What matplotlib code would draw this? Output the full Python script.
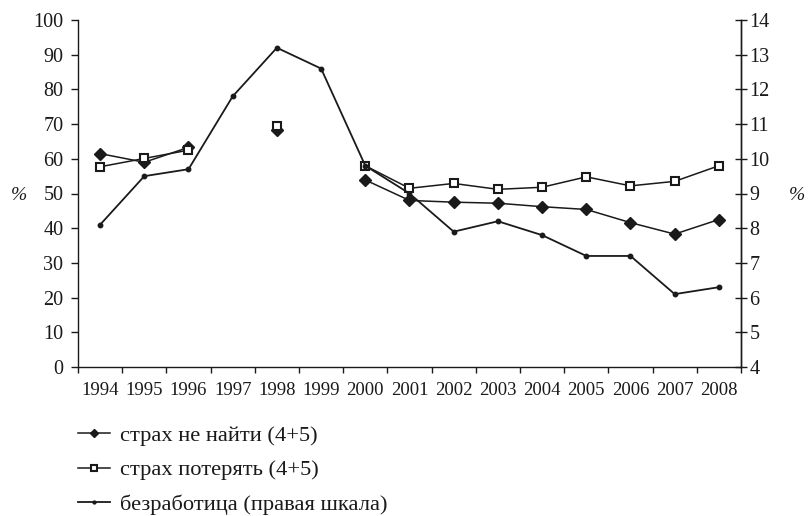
import numpy as np
import matplotlib
matplotlib.use("Agg")
import matplotlib.pyplot as plt

plt.rcParams['font.family'] = ['Liberation Serif', 'DejaVu Serif']

years = ['1994', '1995', '1996', '1997', '1998', '1999', '2000', '2001',
         '2002', '2003', '2004', '2005', '2006', '2007', '2008']
nan = np.nan
# страх не найти работу (4+5), %, левая шкала
fear_not_find = [61.5, 59.0, 63.3, nan, 68.3, nan, 53.9, 48.0,
                 47.5, 47.2, 46.2, 45.4, 41.6, 38.3, 42.5]
# страх потерять работу (4+5), %, левая шкала
fear_lose = [57.7, 60.1, 62.5, nan, 69.5, nan, 58.0, 51.5,
             52.9, 51.2, 51.8, 54.8, 52.2, 53.5, 58.0]
# безработица, %, правая шкала
unemployment = [8.1, 9.5, 9.7, 11.8, 13.2, 12.6, 9.8, 9.0,
                7.9, 8.2, 7.8, 7.2, 7.2, 6.1, 6.3]

labels = ['страх не найти (4+5)', 'страх потерять (4+5)',
          'безработица (правая шкала)']

col = '#1a1a1a'
x = np.arange(len(years))

fig = plt.figure(figsize=(8.08, 5.16), dpi=100)
ax = fig.add_axes([78/808, 1-367/516, (741-78)/808, (367-20)/516])
ax2 = ax.twinx()

l1, = ax.plot(x, fear_not_find, color=col, lw=1.1, marker='D', ms=6.5,
              mfc=col, mec=col, label=labels[0])
l2, = ax.plot(x, fear_lose, color=col, lw=1.1, marker='s', ms=6,
              mfc='white', mec=col, mew=1.5, label=labels[1])
l3, = ax2.plot(x, unemployment, color=col, lw=1.3, marker='o', ms=3.2,
               mfc=col, mec=col, label=labels[2])

ax.set_xlim(-0.5, len(years) - 0.5)
ax.set_ylim(0, 100)
ax2.set_ylim(4, 14)
ax.set_yticks(range(0, 101, 10))
ax2.set_yticks(range(4, 15))

# category axis: tick marks between categories, labels centered
ax.set_xticks(np.arange(-0.5, len(years), 1.0))
ax.set_xticklabels([])
ax.set_xticks(x, minor=True)
ax.set_xticklabels(years, minor=True, fontsize=13.5, color=col)
ax.tick_params(axis='x', which='major', direction='out', length=4.5,
               width=1, color=col)
ax.tick_params(axis='x', which='minor', length=0, pad=11)
ax.tick_params(axis='y', direction='out', length=5, width=1, color=col,
               labelsize=14.5, labelcolor=col, pad=5.5)
ax2.tick_params(axis='y', direction='inout', length=8, width=1, color=col,
                labelsize=14.5, labelcolor=col, pad=2)

for a in (ax, ax2):
    a.spines['top'].set_visible(False)
    for s in ('left', 'right', 'bottom'):
        a.spines[s].set_color(col)
        a.spines[s].set_linewidth(1)
ax2.spines['left'].set_visible(False)
ax2.spines['bottom'].set_visible(False)

fig.text(19/808, 1-195/516, '%', fontsize=14, color=col, style='italic',
         ha='center', va='center')
fig.text(797/808, 1-195/516, '%', fontsize=14, color=col, style='italic',
         ha='center', va='center')

fig.legend([l1, l2, l3], labels, loc='upper left',
           bbox_to_anchor=(78/808, 1-425/516), frameon=False,
           fontsize=16.2, handlelength=1.42, handletextpad=0.45,
           labelspacing=0.62, borderpad=0, borderaxespad=0,
           markerscale=0.65, labelcolor=col)

fig.savefig('out.png', dpi=100)
